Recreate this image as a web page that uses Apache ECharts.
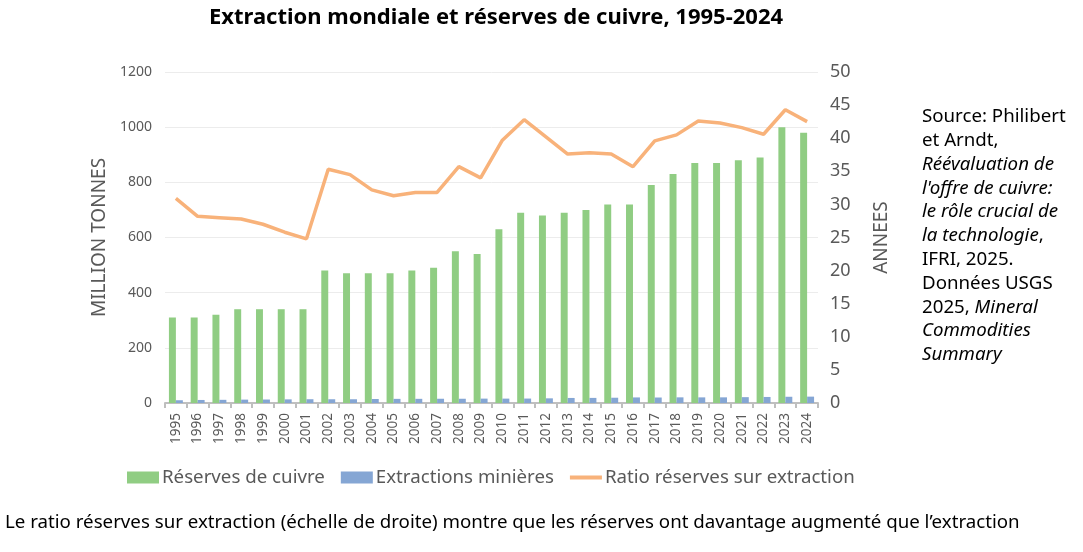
<!DOCTYPE html>
<html>
<head>
<meta charset="utf-8">
<script src="https://cdn.jsdelivr.net/npm/echarts@6/dist/echarts.min.js"></script>
<style>
html,body{margin:0;padding:0;background:#fff;}
#chart{width:1083px;height:552px;}
</style>
</head>
<body>
<div id="chart"></div>
<script>
var years = ['1995','1996','1997','1998','1999','2000','2001','2002','2003','2004','2005','2006','2007','2008','2009','2010','2011','2012','2013','2014','2015','2016','2017','2018','2019','2020','2021','2022','2023','2024'];
var reserves = [310,310,320,340,340,340,340,480,470,470,470,480,490,550,540,630,690,680,690,700,720,720,790,830,870,870,880,890,1000,980];
var extraction = [10,11,11.5,12.2,12.6,13.2,13.7,13.6,13.6,14.6,15,15.1,15.4,15.4,15.9,15.9,16.1,16.9,18.3,18.5,19.1,20.2,19.9,20.5,20.4,20.5,21.2,21.9,22.6,23.1];
var ratio = [30.9,28.2,28.0,27.8,27.0,25.8,24.8,35.3,34.5,32.2,31.3,31.8,31.8,35.7,34.0,39.7,42.8,40.2,37.6,37.8,37.6,35.7,39.6,40.5,42.6,42.3,41.6,40.6,44.3,42.5];

var FONT = '"Noto Sans", "Open Sans", sans-serif';
var GRAY = '#595959';
var chart = echarts.init(document.getElementById('chart'));
chart.setOption({
  backgroundColor: '#ffffff',
  animation: false,
  textStyle: {fontFamily: FONT},
  title: {
    text: 'Extraction mondiale et réserves de cuivre, 1995-2024',
    left: 491, textAlign: 'center', top: 2,
    textStyle: {fontFamily: FONT, fontWeight: 'bold', fontSize: 22, color: '#000'}
  },
  grid: {left: 165, right: 265, top: 72, bottom: 149, containLabel: false},
  legend: {
    left: 127, top: 468, padding: 0,
    itemWidth: 32, itemHeight: 12, itemGap: 16,
    textStyle: {fontFamily: FONT, fontSize: 18.7, color: GRAY, padding: [0,0,0,-2]},
    data: [
      {name: 'Réserves de cuivre', icon: 'rect'},
      {name: 'Extractions minières', icon: 'rect'},
      {name: 'Ratio réserves sur extraction', icon: 'path://M0,0 L0.01,0 L0.01,0.01 Z M0,4 L32,4 L32,8 L0,8 Z M32,12 L31.99,12 L31.99,11.99 Z'}
    ]
  },
  xAxis: {
    type: 'category', data: years, boundaryGap: true,
    axisLine: {lineStyle: {color: '#bfbfbf', width: 2}},
    axisTick: {show: true, alignWithLabel: false, length: 5, lineStyle: {color: '#bfbfbf', width: 2}},
    axisLabel: {rotate: 90, fontSize: 13.5, color: GRAY, margin: 10, interval: 0, fontFamily: FONT}
  },
  yAxis: [
    {
      type: 'value', min: 0, max: 1200, interval: 200,
      name: 'MILLION TONNES', nameLocation: 'middle', nameRotate: 90, nameGap: 44,
      nameTextStyle: {fontSize: 19, color: GRAY, fontFamily: FONT},
      axisLine: {show: false}, axisTick: {show: false},
      axisLabel: {fontSize: 14, color: GRAY, margin: 13, fontFamily: FONT, formatter: function (v) { return String(v); }},
      splitLine: {lineStyle: {color: '#ececec', width: 1}}
    },
    {
      type: 'value', min: 0, max: 50, interval: 5,
      name: 'ANNEES', nameLocation: 'middle', nameRotate: 90, nameGap: 54,
      nameTextStyle: {fontSize: 19, color: GRAY, fontFamily: FONT},
      axisLine: {show: false}, axisTick: {show: false},
      axisLabel: {fontSize: 18, color: GRAY, margin: 12, fontFamily: FONT},
      splitLine: {show: false}
    }
  ],
  series: [
    {
      name: 'Réserves de cuivre', type: 'bar', data: reserves, yAxisIndex: 0,
      barWidth: '32%', barGap: '0%',
      itemStyle: {color: '#90cd83'}
    },
    {
      name: 'Extractions minières', type: 'bar', data: extraction, yAxisIndex: 0,
      barWidth: '32%', barGap: '0%',
      itemStyle: {color: '#85a6d4'}
    },
    {
      name: 'Ratio réserves sur extraction', type: 'line', data: ratio, yAxisIndex: 1,
      symbol: 'none', showSymbol: false,
      lineStyle: {color: '#f8b27a', width: 3.5},
      itemStyle: {color: '#f8b27a'}
    }
  ],
  graphic: [
    {
      type: 'text', left: 922, top: 105,
      style: {
        text: 'Source: Philibert\net Arndt,\n{i|Réévaluation de}\n{i|l\'offre de cuivre:}\n{i|le rôle crucial de}\n{i|la technologie}, \nIFRI, 2025.\nDonnées USGS\n2025, {i|Mineral}\n{i|Commodities}\n{i|Summary}',
        fontFamily: FONT, fontSize: 18.7, lineHeight: 23.8, fill: '#000',
        rich: {i: {fontStyle: 'italic', fontFamily: FONT, fontSize: 18.7, lineHeight: 23.8, fill: '#000'}}
      }
    },
    {
      type: 'text', left: 5, top: 513,
      style: {
        text: 'Le ratio réserves sur extraction (échelle de droite) montre que les réserves ont davantage augmenté que l\u2019extraction',
        fontFamily: FONT, fontSize: 18.7, fill: '#000'
      }
    }
  ]
});
</script>
</body>
</html>
